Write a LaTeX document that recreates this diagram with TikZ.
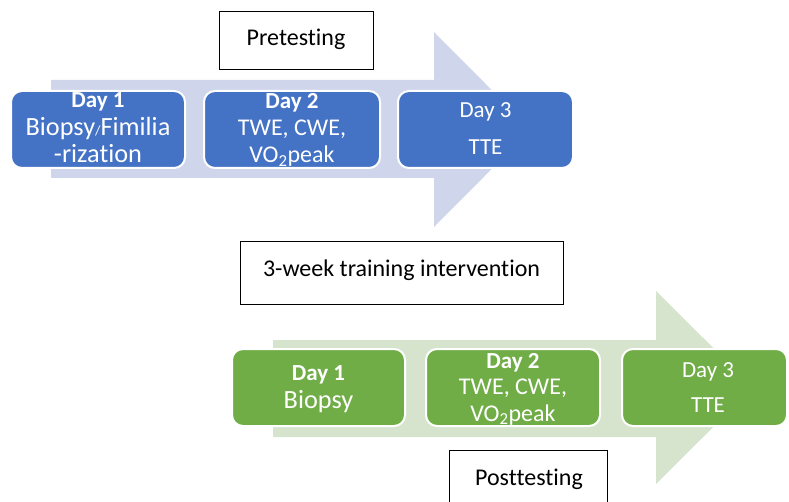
\documentclass[tikz,border=0pt]{standalone}
\usepackage{fontspec}
\setmainfont{Carlito}[Ligatures=NoCommon]
\definecolor{dblue}{HTML}{4472C4}
\definecolor{dgreen}{HTML}{70AD47}
\definecolor{lblue}{HTML}{CFD5EA}
\definecolor{lgreen}{HTML}{D6E4CE}
\begin{document}
\begin{tikzpicture}[x=1pt,y=-1pt,
  daybox/.style={draw=white, line width=2pt, rounded corners=11pt, inner sep=0pt, minimum height=77pt},
  bbox/.style={daybox, fill=dblue},
  gbox/.style={daybox, fill=dgreen},
  wt/.style={text=white, font=\fontsize{24}{28}\selectfont, inner sep=0pt, anchor=base},
  wtl/.style={wt, font=\fontsize{26.3}{28}\selectfont},
  wtb/.style={wt, font=\fontsize{23}{28}\selectfont\bfseries},
  lab/.style={draw=black, line width=1pt, fill=white, inner sep=0pt},
  bt/.style={text=black, font=\fontsize{24}{28}\selectfont, inner sep=0pt, anchor=base}]
\useasboundingbox (0,0) rectangle (789,502);
\clip (0,0) rectangle (789,502);
% big arrows
\fill[lblue] (51,80) -- (434,80) -- (434,32) -- (531,129.5) -- (434,227) -- (434,178) -- (51,178) -- cycle;
\fill[lgreen] (273,340) -- (656,340) -- (656,291) -- (753,387.5) -- (656,484) -- (656,437) -- (273,437) -- cycle;
% label boxes
\node[lab, minimum width=154pt, minimum height=58pt] (pre) at (296,41) {};
\node[bt] (pret) at (296,46) {Pretesting};
\node[lab, minimum width=323pt, minimum height=63pt] (mid) at (401.5,273.5) {};
\node[bt] (midt) at (401.5,277) {3-week training intervention};
\node[lab, minimum width=158pt, minimum height=60pt] (post) at (528,480) {};
\node[bt] (postt) at (529,485) {Posttesting};
% pretest days
\node[bbox, minimum width=174pt] (b1) at (98,129.5) {};
\node[wtb] (b1a) at (b1.center |- 0,108) {Day 1};
\node[wtl] (b1b) at (b1.center |- 0,136) {Biopsy{\fontsize{14}{14}\selectfont /}Fimilia};
\node[wtl] (b1c) at (b1.center |- 0,163) {-rization};
\node[bbox, minimum width=176pt] (b2) at (292,129.5) {};
\node[wtb] (b2a) at (b2.center |- 0,109) {Day 2};
\node[wt] (b2b) at (b2.center |- 0,136) {TWE, CWE,};
\node[wt] (b2c) at (b2.center |- 0,163) {VO\textsubscript{2}peak};
\node[bbox, minimum width=175pt] (b3) at (485.5,129.5) {};
\node[wt, font=\fontsize{23}{28}\selectfont] (b3a) at (b3.center |- 0,118) {Day 3};
\node[wt, font=\fontsize{23}{28}\selectfont] (b3b) at (b3.center |- 0,155) {TTE};
% posttest days
\node[gbox, minimum width=173pt] (g1) at (318.5,387.5) {};
\node[wtb] (g1a) at (g1.center |- 0,380) {Day 1};
\node[wtl] (g1b) at (g1.center |- 0,408) {Biopsy};
\node[gbox, minimum width=174pt] (g2) at (513,387.5) {};
\node[wtb] (g2a) at (g2.center |- 0,368) {Day 2};
\node[wt] (g2b) at (g2.center |- 0,394.5) {TWE, CWE,};
\node[wt] (g2c) at (g2.center |- 0,421) {VO\textsubscript{2}peak};
\node[gbox, minimum width=165pt] (g3) at (704.5,387.5) {};
\node[wt, font=\fontsize{23}{28}\selectfont] (g3a) at (708,377) {Day 3};
\node[wt, font=\fontsize{23}{28}\selectfont] (g3b) at (708,412) {TTE};
\end{tikzpicture}
\end{document}
